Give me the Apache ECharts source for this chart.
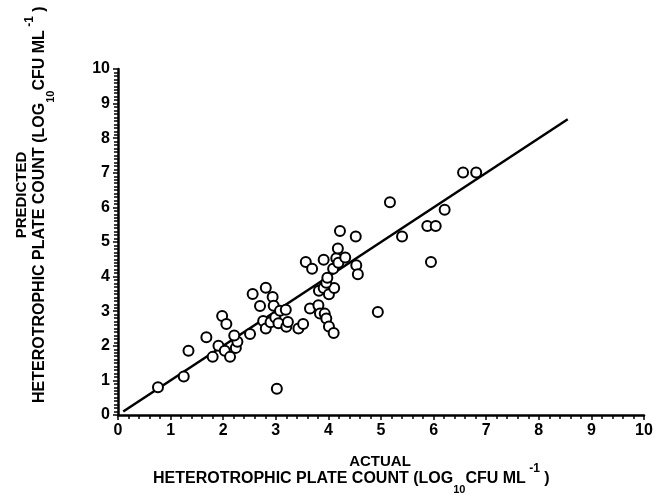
<!DOCTYPE html>
<html>
<head>
<meta charset="utf-8">
<script src="https://cdn.jsdelivr.net/npm/echarts@6/dist/echarts.min.js"></script>
<style>
  html, body { margin: 0; padding: 0; background: #fff; }
  #chart { width: 664px; height: 495px; }
</style>
</head>
<body>
<div id="chart"></div>
<script>
// actual vs predicted (log10 CFU/mL)
var actual = [0.76, 1.25, 1.34, 1.68, 1.80, 1.91, 1.98, 2.06, 2.03, 2.13,
  2.24, 2.27, 2.21, 2.51, 2.56, 2.70, 2.81, 2.76, 2.81, 2.90,
  2.94, 2.96, 2.99, 3.05, 3.08, 3.19, 3.20, 3.23, 3.02, 3.43,
  3.52, 3.57, 3.69, 3.65, 3.81, 3.84, 3.93, 3.96, 4.01, 4.10,
  3.82, 3.91, 4.01, 4.11, 3.96, 3.98, 3.91, 4.09, 4.15, 4.19,
  4.18, 4.32, 4.22, 4.52, 4.53, 4.56, 4.94, 5.17, 5.40, 5.88,
  6.04, 5.95, 6.21, 6.56, 6.81];
var predicted = [0.80, 1.11, 1.86, 2.25, 1.68, 2.00, 2.86, 2.63, 1.86, 1.68,
  1.94, 2.12, 2.30, 2.34, 3.50, 3.15, 3.68, 2.72, 2.50, 2.68,
  3.41, 3.16, 2.82, 2.65, 3.01, 3.04, 2.55, 2.69, 0.76, 2.50,
  2.63, 4.42, 4.23, 3.08, 3.17, 2.93, 2.93, 2.79, 2.56, 2.37,
  3.59, 3.67, 3.49, 3.67, 3.82, 3.97, 4.49, 4.23, 4.53, 4.40,
  4.81, 4.55, 5.32, 5.16, 4.33, 4.07, 2.98, 6.15, 5.16, 5.46,
  5.46, 4.42, 5.93, 7.01, 7.01];
// 1:1 line
var lineX = [0.1, 8.55];
var lineY = [0.1, 8.55];
var ticks = [0, 1, 2, 3, 4, 5, 6, 7, 8, 9, 10];

var pts = [];
for (var i = 0; i < actual.length; i++) {
  pts.push([actual[i], predicted[i]]);
}
var linePts = [];
for (var j = 0; j < lineX.length; j++) {
  linePts.push([lineX[j], lineY[j]]);
}

var font = 'Liberation Sans';
var myChart = echarts.init(document.getElementById('chart'));

function axisOpt(split) {
  return {
    type: 'value',
    min: ticks[0],
    max: ticks[ticks.length - 1],
    interval: 1,
    axisLine: { lineStyle: { color: '#000', width: 2.5 } },
    axisTick: { length: 5, lineStyle: { color: '#000', width: 1.5 } },
    minorTick: { show: true, splitNumber: split, length: 4, lineStyle: { color: '#000', width: 1.5 } },
    splitLine: { show: false },
    minorSplitLine: { show: false },
    axisLabel: { color: '#000', fontFamily: font, fontWeight: 'bold', fontSize: 16, margin: 8 }
  };
}

// sub/superscript via token lineHeight + verticalAlign
var rich = {
  m: { fontFamily: font, fontWeight: 'bold', fontSize: 16, lineHeight: 32, fill: '#000' },
  sub: { fontFamily: font, fontWeight: 'bold', fontSize: 11, lineHeight: 16, verticalAlign: 'bottom', fill: '#000' },
  sup: { fontFamily: font, fontWeight: 'bold', fontSize: 12, lineHeight: 2, verticalAlign: 'top', fill: '#000' }
};
var longName = '{m|HETEROTROPHIC PLATE COUNT (LOG}{sub|10}{m|CFU ML} {sup|-1}{m| )}';

myChart.setOption({
  animation: false,
  backgroundColor: '#fff',
  grid: { left: 118, right: 20, top: 69, bottom: 80 },
  xAxis: axisOpt(5),
  yAxis: axisOpt(10),
  graphic: [
    { type: 'text', x: 380, y: 462,
      style: { text: 'ACTUAL', fontFamily: font, fontWeight: 'bold', fontSize: 15, fill: '#000', align: 'center', verticalAlign: 'middle' } },
    { type: 'text', x: 153, y: 479,
      style: { text: longName, rich: rich, align: 'left', verticalAlign: 'middle' } },
    { type: 'text', x: 22, y: 195, rotation: Math.PI / 2,
      style: { text: 'PREDICTED', fontFamily: font, fontWeight: 'bold', fontSize: 15, fill: '#000', align: 'center', verticalAlign: 'middle' } },
    { type: 'text', x: 40, y: 403, rotation: Math.PI / 2,
      style: { text: longName, rich: rich, align: 'left', verticalAlign: 'middle' } }
  ],
  series: [
    {
      type: 'line',
      data: linePts,
      showSymbol: false,
      lineStyle: { color: '#000', width: 2.5 },
      z: 1
    },
    {
      type: 'scatter',
      data: pts,
      symbol: 'circle',
      symbolSize: 10,
      itemStyle: { color: '#fff', borderColor: '#000', borderWidth: 2, opacity: 1 },
      z: 2
    }
  ]
});
</script>
</body>
</html>
